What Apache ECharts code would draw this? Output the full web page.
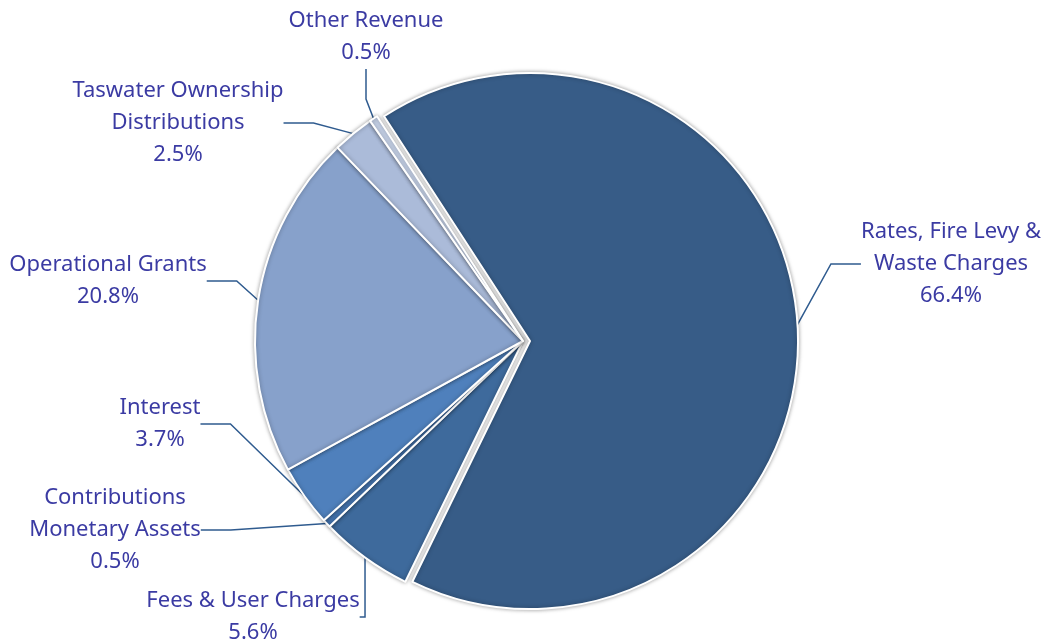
<!DOCTYPE html>
<html>
<head>
<meta charset="utf-8">
<script src="https://cdn.jsdelivr.net/npm/echarts@6/dist/echarts.min.js"></script>
<style>
  html, body { margin: 0; padding: 0; background: #fff; }
  #pieChart { width: 1048px; height: 644px; }
</style>
</head>
<body>
<div id="pieChart"></div>
<script>
// revenue share by source (%), clockwise from the big slice
const categories = [
  'Rates, Fire Levy &\nWaste Charges',
  'Fees & User Charges',
  'Contributions\nMonetary Assets',
  'Interest',
  'Operational Grants',
  'Taswater Ownership\nDistributions',
  'Other Revenue'
]
const shares = [66.4, 5.6, 0.5, 3.7, 20.8, 2.5, 0.5]
const colors = ['#375c87', '#3e6a9c', '#4575b0', '#4f80bc', '#87a1cb', '#abbbd9', '#c6d2e8']

// where each label sits (centre of the text block)
const labelPos = [
  [951, 264], [253, 617], [115, 530], [160, 424], [108, 281], [178, 123], [366, 37]
]

const hidden = {
  itemStyle: { color: 'transparent', borderWidth: 0, shadowBlur: 0 },
  label: { show: false },
  labelLine: { show: false }
}

// the big slice is pulled out a little, so it lives in its own pie
// with the same values (same angles) and a shifted centre
function buildData (exploded) {
  return categories.map((name, i) => {
    const own = exploded ? i === 0 : i !== 0
    const item = { name: name, value: shares[i], itemStyle: { color: colors[i] } }
    return own ? item : Object.assign(item, hidden)
  })
}

function pieSeries (center, exploded) {
  return {
    type: 'pie',
    center: center,
    radius: 268,
    startAngle: 123,
    clockwise: true,
    avoidLabelOverlap: false,
    data: buildData(exploded),
    itemStyle: {
      borderColor: '#fff',
      borderWidth: 2,
      shadowBlur: 4,
      shadowColor: 'rgba(0,0,0,0.35)'
    },
    label: {
      show: true,
      formatter: p => p.name + '\n' + p.value.toFixed(1) + '%',
      color: '#3b3ba3',
      fontFamily: 'Noto Sans',
      fontSize: 22,
      lineHeight: 32,
      align: 'center'
    },
    labelLine: {
      show: true,
      lineStyle: { color: '#2f5b8f', width: 1.5 }
    },
    labelLayout: params => ({
      x: labelPos[params.dataIndex][0],
      y: labelPos[params.dataIndex][1],
      align: 'center',
      verticalAlign: 'middle'
    }),
    emphasis: { disabled: true }
  }
}

const chart = echarts.init(document.getElementById('pieChart'))

chart.setOption({
  animation: false,
  series: [
    pieSeries([523, 341], false),
    pieSeries([530, 341], true)
  ]
})
</script>
</body>
</html>
